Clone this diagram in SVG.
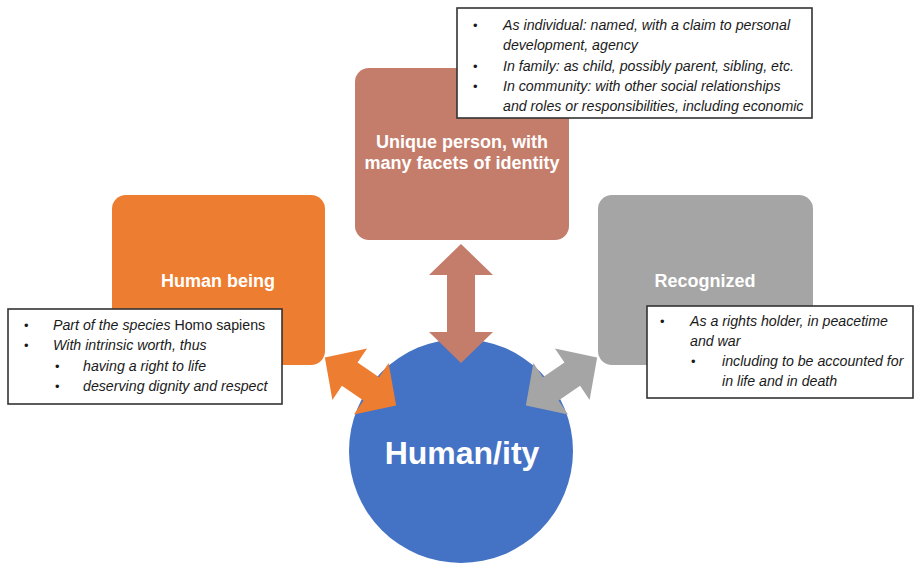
<svg xmlns="http://www.w3.org/2000/svg" width="917" height="565" viewBox="0 0 917 565">
<style>
.title{font-family:"Liberation Sans",Arial,sans-serif;font-weight:bold;font-size:18px;fill:#ffffff;text-anchor:middle}
.big{font-family:"Liberation Sans",Arial,sans-serif;font-weight:bold;font-size:32px;fill:#ffffff;text-anchor:middle}
.note{font-family:"Liberation Sans",Arial,sans-serif;font-style:italic;font-size:14.2px;fill:#1a1a1a}
.bul{font-family:"Liberation Sans",Arial,sans-serif;font-size:13px;fill:#1a1a1a}
.up{font-style:normal}
.callout{fill:#ffffff;stroke:#333333;stroke-width:1.6}
</style>
<defs>
<path id="dbl" d="M -43 0 L -13 -31 L -13 -14 L 13 -14 L 13 -31 L 43 0 L 13 31 L 13 14 L -13 14 L -13 31 Z"/>
</defs>

<g id="human-being">
<rect x="112" y="195" width="213" height="170" rx="14" fill="#ED7D31"/>
<text class="title" x="218" y="287">Human being</text>
</g>

<g id="recognized">
<rect x="598" y="195" width="215" height="170" rx="14" fill="#A5A5A5"/>
<text class="title" x="705" y="287">Recognized</text>
</g>

<g id="unique-person">
<rect x="355" y="68" width="214" height="172" rx="14" fill="#C47D6B"/>
<text class="title" x="462" y="148">Unique person, with</text>
<text class="title" x="462" y="169">many facets of identity</text>
</g>

<g id="humanity">
<circle cx="461" cy="451" r="112" fill="#4472C4"/>
<text class="big" x="462" y="464">Human/ity</text>
</g>

<g id="connectors">
<path d="M 461 244 L 493 275 L 475 275 L 475 332 L 493 332 L 461 363 L 429 332 L 447 332 L 447 275 L 429 275 Z" fill="#C47D6B"/>
<use href="#dbl" transform="translate(360.5,381.5) rotate(34)" fill="#ED7D31"/>
<use href="#dbl" transform="translate(561.5,381.5) rotate(-34)" fill="#A5A5A5"/>
</g>

<g id="note-unique">
<rect class="callout" x="457" y="8" width="355" height="110"/>
<text class="bul" x="473" y="30">•</text>
<text class="note" x="503" y="30">As individual: named, with a claim to personal</text>
<text class="note" x="503" y="50">development, agency</text>
<text class="bul" x="473" y="71">•</text>
<text class="note" x="503" y="71">In family: as child, possibly parent, sibling, etc.</text>
<text class="bul" x="473" y="91">•</text>
<text class="note" x="503" y="91">In community: with other social relationships</text>
<text class="note" x="503" y="111">and roles or responsibilities, including economic</text>
</g>

<g id="note-human">
<rect class="callout" x="8" y="309" width="274" height="95"/>
<text class="bul" x="24" y="330">•</text>
<text class="note" x="53" y="330">Part of the species <tspan class="up">Homo sapiens</tspan></text>
<text class="bul" x="24" y="350">•</text>
<text class="note" x="53" y="350">With intrinsic worth, thus</text>
<text class="bul" x="55" y="371">•</text>
<text class="note" x="83" y="371">having a right to life</text>
<text class="bul" x="55" y="391">•</text>
<text class="note" x="83" y="391">deserving dignity and respect</text>
</g>

<g id="note-recognized">
<rect class="callout" x="647" y="306" width="266" height="92"/>
<text class="bul" x="660" y="326">•</text>
<text class="note" x="690" y="326">As a rights holder, in peacetime</text>
<text class="note" x="690" y="346">and war</text>
<text class="bul" x="691" y="366">•</text>
<text class="note" x="722" y="366">including to be accounted for</text>
<text class="note" x="722" y="386">in life and in death</text>
</g>
</svg>
